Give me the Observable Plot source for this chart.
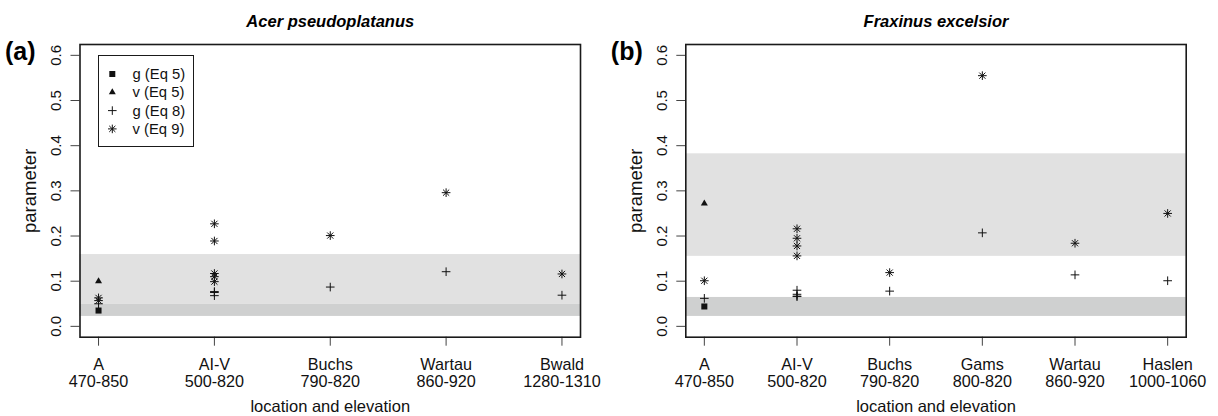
<!DOCTYPE html>
<html><head><meta charset="utf-8">
<script src="https://cdn.jsdelivr.net/npm/d3@7"></script>
<script src="https://cdn.jsdelivr.net/npm/@observablehq/plot@0.6"></script>
<style>
body{margin:0;background:#fff;}
#row{position:relative;display:flex;width:1218px;height:416px;}
#row svg{display:block;}
#legend{position:absolute;}
</style></head><body><div id="row"></div>
<script>
// ---- Panel (a): Acer pseudoplatanus ----
const acerLocations = ["A", "AI-V", "Buchs", "Wartau", "Bwald"];
const acerElevations = ["470-850", "500-820", "790-820", "860-920", "1280-1310"];
const acerG5 = [["A", 0.035]];
const acerV5 = [["A", 0.100]];
const acerG8 = [["A", 0.050], ["AI-V", 0.077], ["AI-V", 0.075], ["AI-V", 0.068], ["Buchs", 0.087], ["Wartau", 0.121], ["Bwald", 0.069]];
const acerV9 = [["A", 0.063], ["A", 0.057], ["AI-V", 0.227], ["AI-V", 0.189], ["AI-V", 0.117], ["AI-V", 0.110], ["AI-V", 0.099], ["Buchs", 0.201], ["Wartau", 0.296], ["Bwald", 0.116]];
const acerBandLight = [[0.049, 0.159]];
const acerBandDark = [[0.022, 0.049]];

// ---- Panel (b): Fraxinus excelsior ----
const fraxLocations = ["A", "AI-V", "Buchs", "Gams", "Wartau", "Haslen"];
const fraxElevations = ["470-850", "500-820", "790-820", "800-820", "860-920", "1000-1060"];
const fraxG5 = [["A", 0.044]];
const fraxV5 = [["A", 0.272]];
const fraxG8 = [["A", 0.062], ["AI-V", 0.080], ["AI-V", 0.071], ["AI-V", 0.067], ["AI-V", 0.066], ["Buchs", 0.078], ["Gams", 0.207], ["Wartau", 0.114], ["Haslen", 0.101]];
const fraxV9 = [["A", 0.101], ["AI-V", 0.216], ["AI-V", 0.195], ["AI-V", 0.178], ["AI-V", 0.156], ["Buchs", 0.119], ["Gams", 0.555], ["Wartau", 0.184], ["Haslen", 0.250]];
const fraxBandLight = [[0.155, 0.382]];
const fraxBandDark = [[0.022, 0.064]];

const yTicks = [0.0, 0.1, 0.2, 0.3, 0.4, 0.5, 0.6];
const legendLabels = ["g (Eq 5)", "v (Eq 5)", "g (Eq 8)", "v (Eq 9)"];

const FONT = "'Liberation Sans', Arial, Helvetica, sans-serif";
const lightGray = "#e1e1e1";
const darkGray = "#cfd0d0";

function panel({locations, elevations, g5, v5, g8, v9, bandLight, bandDark, title, letter, marginLeft, marginRight}) {
  const n = locations.length;
  const pad = (n - 1) * 0.04;
  const xi = d => locations.indexOf(d[0]) + 1;
  const ticks = d3.range(1, n + 1);
  return Plot.plot({
    width: 609, height: 416,
    marginLeft, marginRight, marginTop: 44, marginBottom: 79.3,
    style: {fontFamily: FONT, color: "#444", background: "#fff"},
    x: {domain: [1 - pad, n + pad], ticks, tickSize: 9, tickFormat: () => "", label: null},
    y: {domain: [-0.024, 0.624], ticks: yTicks, tickSize: 9, tickFormat: () => "", label: null},
    marks: [
      Plot.rect(bandLight, {y1: d => d[0], y2: d => d[1], fill: lightGray}),
      Plot.rect(bandDark, {y1: d => d[0], y2: d => d[1], fill: darkGray}),
      Plot.frame({stroke: "#1a1a1a", strokeWidth: 1.6}),
      Plot.text(ticks, {x: d => d, frameAnchor: "bottom", dy: 21, lineAnchor: "top", lineHeight: 1.03,
        text: d => locations[d - 1] + "\n" + elevations[d - 1], fontSize: 16.2, fill: "#111"}),
      Plot.text(yTicks, {y: d => d, frameAnchor: "left", dx: -24, rotate: -90, textAnchor: "middle", lineAnchor: "middle",
        text: d => d3.format(".1f")(d), fontSize: 15, fill: "#111"}),
      Plot.text(["location and elevation"], {frameAnchor: "bottom", dy: 70, lineAnchor: "middle", fontSize: 16.5, fill: "#111"}),
      Plot.text(["parameter"], {frameAnchor: "left", dx: -50, rotate: -90, textAnchor: "middle", lineAnchor: "middle", fontSize: 18.5, fill: "#111"}),
      Plot.text([title], {frameAnchor: "top", dy: -23, lineAnchor: "middle", fontSize: 16.5, fontWeight: "bold", fontStyle: "italic", fill: "#000"}),
      Plot.text([letter], {frameAnchor: "top-left", dx: -75, dy: 7, textAnchor: "start", lineAnchor: "middle", fontSize: 25, fontWeight: "bold", fill: "#000"}),
      Plot.dot(g5, {x: xi, y: d => d[1], symbol: "square", r: 3.4, fill: "#111", stroke: "none"}),
      Plot.dot(v5, {x: xi, y: d => d[1], symbol: "triangle", r: 2.6, fill: "#111", stroke: "none"}),
      Plot.dot(g8, {x: xi, y: d => d[1], symbol: "plus", r: 2.9, stroke: "#111", strokeWidth: 1, fill: "none"}),
      Plot.dot(v9, {x: xi, y: d => d[1], symbol: "plus", r: 2.9, stroke: "#111", strokeWidth: 1, fill: "none"}),
      Plot.dot(v9, {x: xi, y: d => d[1], symbol: "times", r: 2.9, stroke: "#111", strokeWidth: 1, fill: "none"})
    ]
  });
}

const row = document.getElementById("row");
row.appendChild(panel({locations: acerLocations, elevations: acerElevations, g5: acerG5, v5: acerV5, g8: acerG8, v9: acerV9,
  bandLight: acerBandLight, bandDark: acerBandDark, title: "Acer pseudoplatanus", letter: "(a)", marginLeft: 79.5, marginRight: 29}));
row.appendChild(panel({locations: fraxLocations, elevations: fraxElevations, g5: fraxG5, v5: fraxV5, g8: fraxG8, v9: fraxV9,
  bandLight: fraxBandLight, bandDark: fraxBandDark, title: "Fraxinus excelsior", letter: "(b)", marginLeft: 76.3, marginRight: 32.3}));

// legend (panel a)
const lg = d3.select(row).append("svg").attr("id", "legend")
  .attr("width", 96).attr("height", 92)
  .style("left", "98px").style("top", "54.5px");
lg.append("rect").attr("x", 0.5).attr("y", 0.5).attr("width", 95).attr("height", 91).attr("fill", "#fff").attr("stroke", "#1a1a1a").attr("stroke-width", 1);
const syms = [
  [{t: d3.symbolSquare, s: 36, fill: true}],
  [{t: d3.symbolTriangle, s: 21, fill: true}],
  [{t: d3.symbolPlus, s: 26}],
  [{t: d3.symbolPlus, s: 26}, {t: d3.symbolTimes, s: 26}]
];
legendLabels.forEach((lab, i) => {
  const y = 19 + i * 18.3;
  syms[i].forEach(s => {
    lg.append("path").attr("transform", `translate(14.3,${y})`)
      .attr("d", d3.symbol(s.t, s.s)())
      .attr("fill", s.fill ? "#111" : "none").attr("stroke", s.fill ? "none" : "#111").attr("stroke-width", 1);
  });
  lg.append("text").attr("x", 34.5).attr("y", y).attr("dy", "0.35em")
    .attr("font-family", FONT).attr("font-size", 14.8).attr("fill", "#111").text(lab);
});
</script>
</body></html>
